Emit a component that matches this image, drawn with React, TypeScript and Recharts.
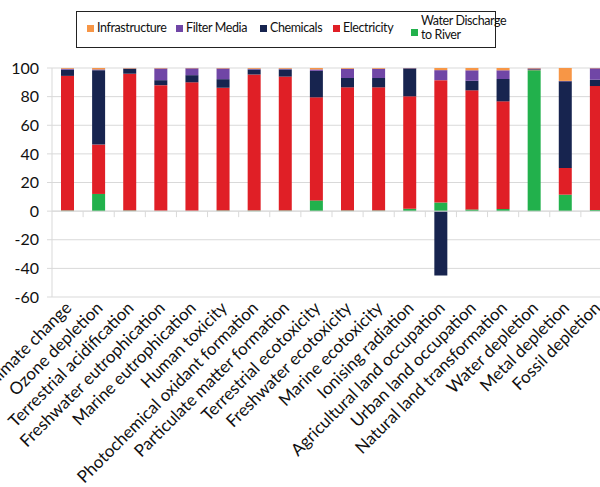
import { Bar, BarChart, CartesianGrid, ReferenceLine, XAxis, YAxis } from 'recharts'

const categories = [
    'Climate change',
    'Ozone depletion',
    'Terrestrial acidification',
    'Freshwater eutrophication',
    'Marine eutrophication',
    'Human toxicity',
    'Photochemical oxidant formation',
    'Particulate matter formation',
    'Terrestrial ecotoxicity',
    'Freshwater ecotoxicity',
    'Marine ecotoxicity',
    'Ionising radiation',
    'Agricultural land occupation',
    'Urban land occupation',
    'Natural land transformation',
    'Water depletion',
    'Metal depletion',
    'Fossil depletion',
]

const waterDischarge = [0.5, 12, 0.5, 0.2, 0.2, 0.5, 0.5, 0.5, 7.5, 0.5, 0.5, 1.7, 6, 1.2, 1.5, 98.5, 11.5, 0.8]
const electricity = [94, 34.5, 95.5, 87.8, 89.8, 85.7, 95, 93.5, 72, 86, 86, 78.5, 85.5, 83.2, 75.2, 0.3, 18.7, 86.6]
const chemicals = [4.3, 52, 3.5, 3.5, 5, 6, 3.5, 5, 18.5, 6.5, 6.5, 19.5, -45, 6.7, 15.6, 0.4, 60.5, 4.4]
const filterMedia = [0.7, 0.5, 0.2, 8.2, 4.8, 7.5, 0.5, 0.5, 1, 6.5, 6.5, 0.2, 7, 7.3, 6.1, 0.5, 0.3, 8]
const infrastructure = [0.5, 1, 0.3, 0.3, 0.2, 0.3, 0.5, 0.5, 1, 0.5, 0.5, 0.1, 1.5, 1.6, 1.6, 0.3, 9, 0.2]

const yTicks = [-60, -40, -20, 0, 20, 40, 60, 80, 100]

const colors = {
    infrastructure: '#F79646',
    filterMedia: '#7046A6',
    chemicals: '#17244F',
    electricity: '#E01F26',
    water: '#22B14C',
}

const legendItems = [
    { label: 'Infrastructure', color: colors.infrastructure, left: 10 },
    { label: 'Filter Media', color: colors.filterMedia, left: 99 },
    { label: 'Chemicals', color: colors.chemicals, left: 183 },
    { label: 'Electricity', color: colors.electricity, left: 256 },
    { label: 'Water Discharge\nto River', color: colors.water, left: 334 },
]

const data = categories.map((name, i) => ({
    name,
    water: waterDischarge[i],
    electricity: electricity[i],
    chemicals: chemicals[i],
    filterMedia: filterMedia[i],
    infrastructure: infrastructure[i],
}))

const gridColor = '#D9D9D9'

const XTick = (props: any) => {
    const { x, y, payload } = props
    const tx = x + 5
    const ty = y + 8
    return (
        <text
            x={tx}
            y={ty}
            transform={`rotate(-45 ${tx} ${ty})`}
            textAnchor="end"
            fontSize={17}
            fill="#111"
        >
            {payload.value}
        </text>
    )
}

// zero line with the small category ticks hanging under it
const ZeroAxis = (props: any) => {
    const { x1, y1, x2 } = props
    const step = (x2 - x1) / categories.length
    return (
        <g>
            <line x1={x1} y1={y1} x2={x2} y2={y1} stroke={gridColor} strokeWidth={1} />
            {categories.map((c, i) => (
                <line
                    key={c}
                    x1={x1 + step * (i + 1)}
                    y1={y1}
                    x2={x1 + step * (i + 1)}
                    y2={y1 + 6}
                    stroke={gridColor}
                    strokeWidth={1}
                />
            ))}
        </g>
    )
}

const Legend = () => (
    <div
        style={{
            position: 'absolute',
            left: 76,
            top: 11,
            width: 420,
            height: 37,
            border: '1px solid #222',
            boxSizing: 'border-box',
            background: '#fff',
            fontSize: 12.5,
            letterSpacing: -0.4,
            color: '#111',
        }}
    >
        {legendItems.map((it) => {
            const twoLines = it.label.includes('\n')
            return (
                <div
                    key={it.label}
                    style={{ position: 'absolute', left: it.left, top: twoLines ? 2 : 8, display: 'flex', alignItems: 'center' }}
                >
                    <span
                        style={{
                            display: 'inline-block',
                            width: 7,
                            height: 7,
                            background: it.color,
                            marginRight: 3,
                            marginTop: twoLines ? 8 : 0,
                        }}
                    />
                    <span style={{ whiteSpace: 'pre', lineHeight: twoLines ? '14px' : '16px' }}>{it.label}</span>
                </div>
            )
        })}
    </div>
)

export default function App() {
    return (
        <div
            style={{
                position: 'fixed',
                left: 0,
                top: 0,
                width: 600,
                height: 487,
                overflow: 'hidden',
                background: '#fff',
                fontFamily: 'Lato, sans-serif',
            }}
        >
            <BarChart
                width={612}
                height={487}
                data={data}
                stackOffset="sign"
                barSize={13}
                margin={{ top: 68, right: 0, bottom: 0, left: 0 }}
            >
                <CartesianGrid vertical={false} stroke={gridColor} />
                <XAxis
                    dataKey="name"
                    interval={0}
                    height={190}
                    axisLine={false}
                    tickLine={false}
                    tickSize={0}
                    tickMargin={4}
                    tick={<XTick />}
                />
                <YAxis
                    width={52}
                    domain={[-60, 100]}
                    ticks={yTicks}
                    interval={0}
                    axisLine={{ stroke: gridColor }}
                    tickLine={{ stroke: gridColor }}
                    tickSize={5}
                    tickMargin={8}
                    tick={{ fill: '#111', fontSize: 16 }}
                />
                <Bar dataKey="water" stackId="a" fill={colors.water} isAnimationActive={false} />
                <Bar dataKey="electricity" stackId="a" fill={colors.electricity} isAnimationActive={false} />
                <Bar dataKey="chemicals" stackId="a" fill={colors.chemicals} isAnimationActive={false} />
                <Bar dataKey="filterMedia" stackId="a" fill={colors.filterMedia} isAnimationActive={false} />
                <Bar dataKey="infrastructure" stackId="a" fill={colors.infrastructure} isAnimationActive={false} />
                <ReferenceLine y={0} shape={<ZeroAxis />} />
            </BarChart>
            <Legend />
        </div>
    )
}
